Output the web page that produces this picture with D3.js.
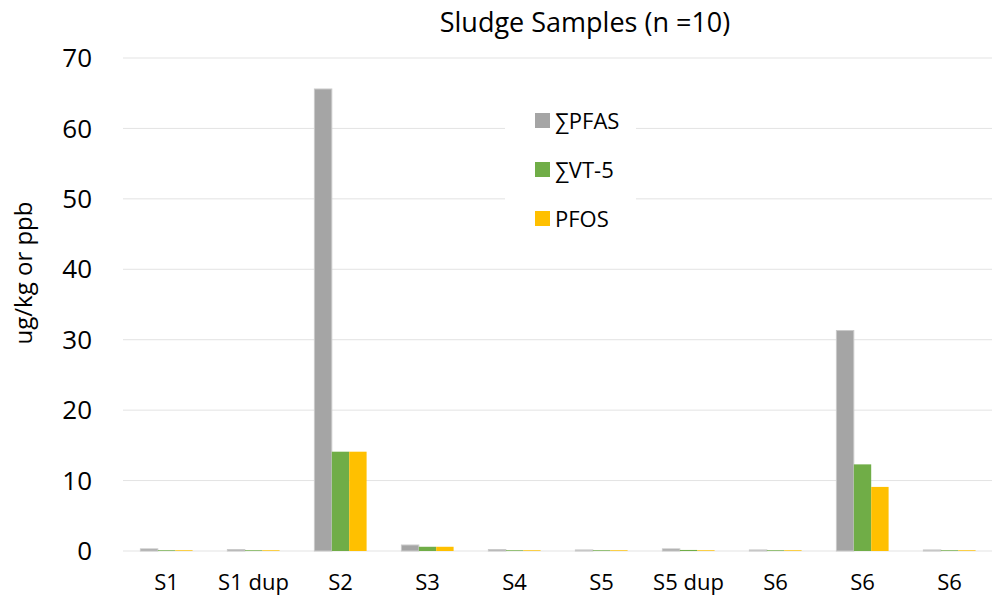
<!DOCTYPE html>
<html>
<head>
<meta charset="utf-8">
<script src="https://cdn.jsdelivr.net/npm/d3@7"></script>
<style>
  body { margin: 0; background: #fff; }
  text { font-family: "Open Sans", sans-serif; fill: #000; }
</style>
</head>
<body>
<svg width="992" height="604"></svg>
<script>
var categories = ["S1", "S1 dup", "S2", "S3", "S4", "S5", "S5 dup", "S6", "S6", "S6"];
var seriesNames = ["\u2211PFAS", "\u2211VT-5", "PFOS"];
var pfas = [0.3, 0.2, 65.6, 0.85, 0.2, 0.15, 0.3, 0.15, 31.3, 0.15];
var vt5  = [0.1, 0.1, 14.1, 0.6, 0.1, 0.1, 0.15, 0.1, 12.3, 0.1];
var pfos = [0.1, 0.1, 14.1, 0.6, 0.1, 0.1, 0.1, 0.1, 9.1, 0.1];
var yTicks = [0, 10, 20, 30, 40, 50, 60, 70];
var colors = ["#a5a5a5", "#70ad47", "#ffc000"];

var values = [pfas, vt5, pfos];
var svg = d3.select("svg"),
    margin = {top: 58, right: 0, bottom: 53, left: 123},
    width = 993 - margin.left,
    height = 604 - margin.top - margin.bottom;

var g = svg.append("g").attr("transform", "translate(" + margin.left + "," + margin.top + ")");

// index-based band so the repeated "S6" labels stay separate
var x0 = d3.scaleBand().domain(d3.range(categories.length)).range([0, width]);
var x1 = d3.scaleBand().domain(d3.range(seriesNames.length))
    .range([0, x0.bandwidth()]).paddingInner(0).paddingOuter(1);
var y = d3.scaleLinear().domain([0, 70]).range([height, 0]);

// gridlines
g.selectAll(".grid").data(yTicks).enter().append("line")
    .attr("x1", 0).attr("x2", width)
    .attr("y1", function(d) { return y(d); }).attr("y2", function(d) { return y(d); })
    .attr("stroke", "#e3e3e3").attr("stroke-width", 1);

// y tick labels
g.selectAll(".ytick").data(yTicks).enter().append("text")
    .attr("x", -31).attr("y", function(d) { return y(d); })
    .attr("dy", "0.35em").attr("text-anchor", "end")
    .style("font-size", "26px")
    .text(function(d) { return d; });

// bars
var groups = g.selectAll(".grp").data(categories).enter().append("g")
    .attr("transform", function(d, i) { return "translate(" + x0(i) + ",0)"; });

groups.selectAll("rect")
    .data(function(d, i) { return values.map(function(s, k) { return {k: k, v: s[i]}; }); })
    .enter().append("rect")
    .attr("x", function(d) { return x1(d.k); })
    .attr("width", x1.bandwidth())
    .attr("y", function(d) { return y(d.v); })
    .attr("height", function(d) { return y(0) - y(d.v); })
    .attr("fill", function(d) { return colors[d.k]; })
    .attr("stroke", function(d) { return d.k === 0 ? "#c9c9c9" : "none"; })
    .attr("stroke-width", 1);

// x labels
g.selectAll(".xlab").data(categories).enter().append("text")
    .attr("x", function(d, i) { return x0(i) + x0.bandwidth() / 2; })
    .attr("y", height + 39)
    .attr("text-anchor", "middle")
    .style("font-size", "22px")
    .text(function(d) { return d; });

// title
svg.append("text")
    .attr("x", 585).attr("y", 32)
    .attr("text-anchor", "middle")
    .style("font-size", "27px")
    .text("Sludge Samples (n =10)");

// y axis title
svg.append("text")
    .attr("transform", "translate(32,273) rotate(-90)")
    .attr("text-anchor", "middle")
    .style("font-size", "24px")
    .text("ug/kg or ppb");

// legend
var legend = svg.append("g").attr("transform", "translate(505,100)");
legend.append("rect").attr("width", 131).attr("height", 140).attr("fill", "#fff");
var items = legend.selectAll(".li").data(seriesNames).enter().append("g")
    .attr("transform", function(d, i) { return "translate(30," + (21 + i * 49) + ")"; });
items.append("rect")
    .attr("x", 0).attr("y", -8).attr("width", 15).attr("height", 15)
    .attr("fill", function(d, i) { return colors[i]; });
items.append("text")
    .attr("x", 20).attr("dy", "0.35em")
    .style("font-size", "22px")
    .text(function(d) { return d; });
</script>
</body>
</html>
